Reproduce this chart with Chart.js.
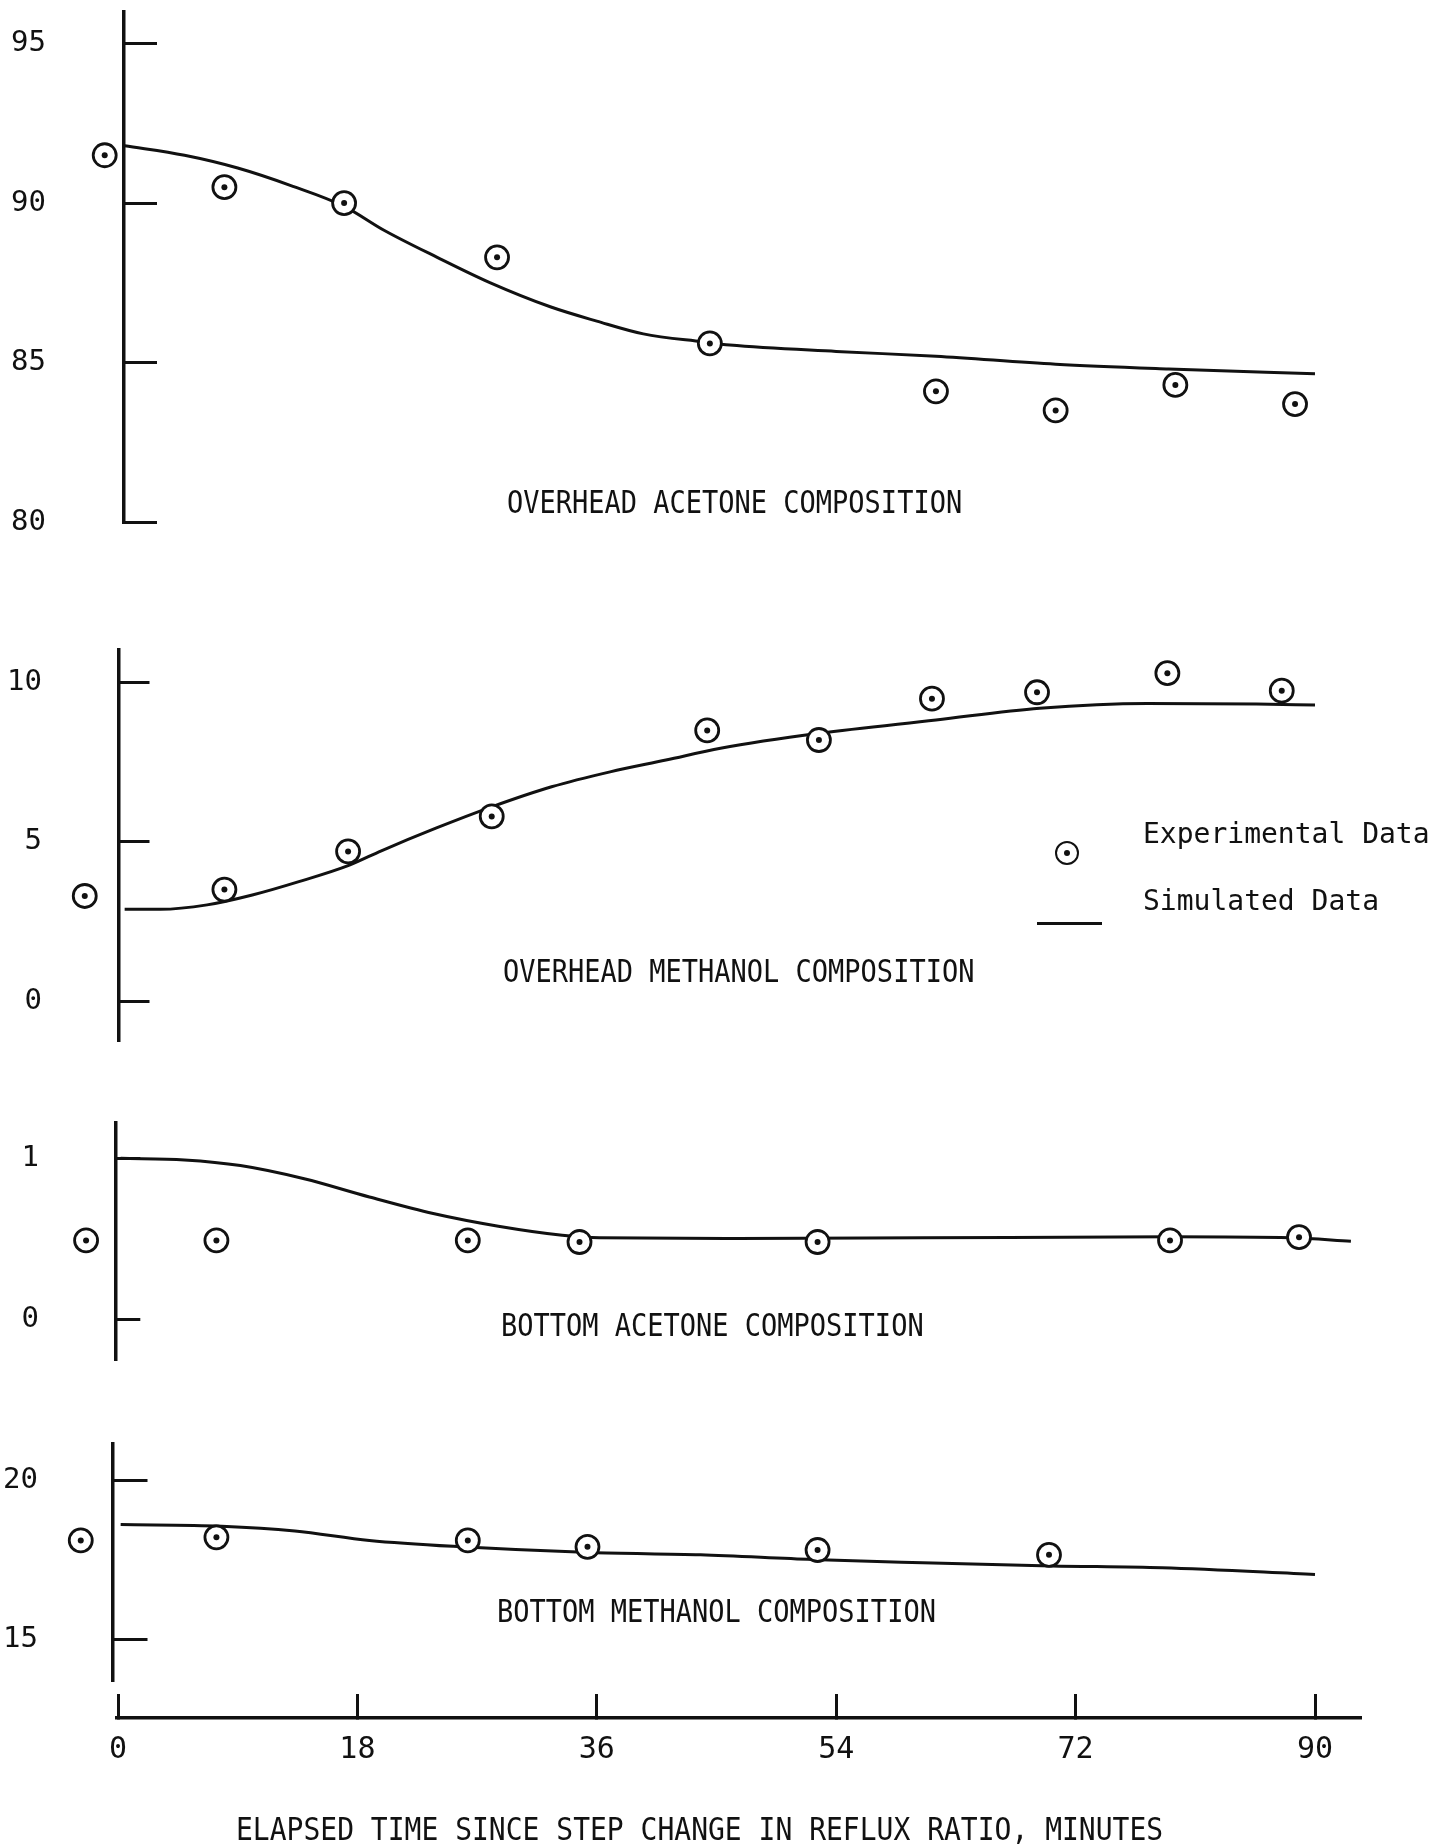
<!DOCTYPE html>
<html>
<head>
<meta charset="utf-8">
<script src="https://cdn.jsdelivr.net/npm/chart.js@4.4.1/dist/chart.umd.min.js"></script>
<style>
  html, body { margin: 0; padding: 0; background: #fff; }
  #page { position: relative; width: 1439px; height: 1848px; overflow: hidden; background: #fff; }
  #page canvas { position: absolute; left: 0; top: 0; }
  .txt { position: absolute; font-family: 'DejaVu Sans Mono', monospace; color: #111; white-space: nowrap; line-height: 1; }
  .cap { font-size: 27px; transform: scaleY(1.17); transform-origin: left center; }
  .leg { font-size: 28px; }
  .mark { position: absolute; width: 20px; height: 20px; border: 2.8px solid #111; border-radius: 50%; background: #fff; }
  .mark::after { content: ''; position: absolute; left: 7px; top: 7px; width: 6px; height: 6px; border-radius: 50%; background: #111; }
  .dash { position: absolute; height: 3px; background: #111; }
</style>
</head>
<body>
<div id="page">
  <div class="txt cap" style="left:507px; top:488px;">OVERHEAD ACETONE COMPOSITION</div>
  <div class="txt cap" style="left:503px; top:957px;">OVERHEAD METHANOL COMPOSITION</div>
  <div class="txt cap" style="left:501px; top:1311px;">BOTTOM ACETONE COMPOSITION</div>
  <div class="txt cap" style="left:497px; top:1597px;">BOTTOM METHANOL COMPOSITION</div>
  <div class="txt cap" style="left:236px; top:1815px; font-size:28px;">ELAPSED TIME SINCE STEP CHANGE IN REFLUX RATIO, MINUTES</div>

  <div class="txt leg" style="left:1143px; top:820px;">Experimental Data</div>
  <div class="txt leg" style="left:1143px; top:887px;">Simulated Data</div>
  <div class="mark" style="left:1055px; top:841px;"></div>
  <div class="dash" style="left:1037px; top:922px; width:65px;"></div>
</div>
<script>
// time axis (minutes)
const timeTicks = [0, 18, 36, 54, 72, 90];

// overhead acetone composition
const acetoneTopTicks = [80, 85, 90, 95];
const acetoneTopExpTime = [-1, 8, 17, 28.5, 44.5, 61.5, 70.5, 79.5, 88.5];
const acetoneTopExp = [91.5, 90.5, 90.0, 88.3, 85.6, 84.1, 83.5, 84.3, 83.7];
const acetoneTopSimTime = [0.5, 5, 9, 13, 17, 20, 24, 28, 32.5, 36, 39.5, 44, 46, 54, 61.5, 70.5, 79, 90];
const acetoneTopSim = [91.8, 91.5, 91.1, 90.55, 89.9, 89.15, 88.3, 87.5, 86.75, 86.3, 85.9, 85.65, 85.55, 85.35, 85.2, 84.95, 84.8, 84.65];

// overhead methanol composition
const methanolTopTicks = [0, 5, 10];
const methanolTopExpTime = [-2.5, 8, 17.3, 28.1, 44.3, 52.7, 61.2, 69.1, 78.9, 87.5];
const methanolTopExp = [3.3, 3.5, 4.7, 5.8, 8.5, 8.2, 9.5, 9.7, 10.3, 9.75];
const methanolTopSimTime = [0.5, 3.2, 6.7, 10.1, 13.6, 17.4, 19.8, 23.9, 28.1, 32.6, 37, 41.2, 45.3, 52.7, 61.5, 69.3, 77.4, 85.6, 90];
const methanolTopSim = [2.88, 2.88, 3.02, 3.33, 3.75, 4.27, 4.72, 5.43, 6.1, 6.73, 7.2, 7.57, 7.94, 8.41, 8.83, 9.2, 9.35, 9.33, 9.3];

// bottom acetone composition
const acetoneBotTicks = [0, 1];
const acetoneBotExpTime = [-2.4, 7.4, 26.3, 34.7, 52.6, 79.1, 88.8];
const acetoneBotExp = [0.49, 0.49, 0.49, 0.48, 0.48, 0.49, 0.51];
const acetoneBotSimTime = [0.2, 5, 9.2, 14, 18.9, 23.7, 28.6, 33.4, 36.2, 46.6, 60.5, 79.2, 88.2, 92.7];
const acetoneBotSim = [1.0, 0.99, 0.955, 0.873, 0.76, 0.657, 0.578, 0.522, 0.506, 0.502, 0.506, 0.512, 0.506, 0.485];

// bottom methanol composition
const methanolBotTicks = [15, 20];
const methanolBotExpTime = [-2.8, 7.4, 26.3, 35.3, 52.6, 70];
const methanolBotExp = [18.1, 18.2, 18.1, 17.9, 17.8, 17.65];
const methanolBotSimTime = [0.2, 7.8, 13.3, 18.9, 25.8, 35.5, 43.8, 52.2, 60.5, 70.2, 78.5, 90];
const methanolBotSim = [18.6, 18.55, 18.4, 18.1, 17.9, 17.72, 17.65, 17.5, 17.4, 17.3, 17.24, 17.03];

const INK = '#111';
const FONT = "'DejaVu Sans Mono', monospace";
const W = 1439, H = 1848;
// canvases overhang the page so the big label padding never squeezes the plot
const OFF = 300;
// pixel where t = 0 sits, and pixels per minute
const X0_PX = 118, PX_PER_MIN = 13.3, RIGHT_PX = 1355;

const page = document.getElementById('page');

function pairs(xs, ys) {
  return xs.map((x, i) => ({ x: x, y: ys[i] }));
}

function newCanvas() {
  const c = document.createElement('canvas');
  c.width = W;
  c.height = H + 2 * OFF;
  c.style.top = -OFF + 'px';
  page.insertBefore(c, page.firstChild);
  return c;
}

const panels = [
  { axisX: 124, top: 11.7, bottom: 522.1, yMin: 80, yMax: 96, tickLen: 33, labelRight: 46,
    ticks: acetoneTopTicks, expT: acetoneTopExpTime, exp: acetoneTopExp, simT: acetoneTopSimTime, sim: acetoneTopSim },
  { axisX: 118.5, top: 649.3, bottom: 1040.8, yMin: -1.25, yMax: 11.05, tickLen: 31, labelRight: 42,
    ticks: methanolTopTicks, expT: methanolTopExpTime, exp: methanolTopExp, simT: methanolTopSimTime, sim: methanolTopSim },
  { axisX: 115.3, top: 1122.9, bottom: 1359.5, yMin: -0.25, yMax: 1.22, tickLen: 25, labelRight: 39,
    ticks: acetoneBotTicks, expT: acetoneBotExpTime, exp: acetoneBotExp, simT: acetoneBotSimTime, sim: acetoneBotSim },
  { axisX: 112.5, top: 1444.1, bottom: 1680.4, yMin: 13.7, yMax: 21.13, tickLen: 35, labelRight: 38,
    ticks: methanolBotTicks, expT: methanolBotExpTime, exp: methanolBotExp, simT: methanolBotSimTime, sim: methanolBotSim }
];

panels.forEach(function (p) {
  new Chart(newCanvas(), {
    type: 'scatter',
    data: {
      datasets: [
        { // centre dot of the experimental marker
          data: pairs(p.expT, p.exp), pointRadius: 3, pointHoverRadius: 60, pointBackgroundColor: INK,
          pointBorderWidth: 0, order: 1, clip: false
        },
        { // ring of the experimental marker (hover radius only widens the in-area margin)
          data: pairs(p.expT, p.exp), pointRadius: 11.5, pointHoverRadius: 60, pointBackgroundColor: '#fff',
          pointBorderColor: INK, pointBorderWidth: 2.8, order: 2, clip: false
        },
        { // simulated curve
          data: pairs(p.simT, p.sim), showLine: true, pointRadius: 0, borderColor: INK,
          borderWidth: 3, cubicInterpolationMode: 'monotone', order: 3, clip: false
        }
      ]
    },
    options: {
      responsive: false,
      devicePixelRatio: 1,
      animation: false,
      events: [],
      layout: { padding: { left: 0, right: W - RIGHT_PX, top: p.top + OFF, bottom: H + OFF - p.bottom } },
      plugins: { legend: { display: false }, tooltip: { enabled: false } },
      scales: {
        x: {
          type: 'linear', display: false,
          min: (p.axisX - X0_PX) / PX_PER_MIN,
          max: (RIGHT_PX - X0_PX) / PX_PER_MIN
        },
        y: {
          type: 'linear', position: 'left', min: p.yMin, max: p.yMax,
          afterBuildTicks: function (s) { s.ticks = p.ticks.map(v => ({ value: v })); },
          afterFit: function (s) { s.width = p.axisX; },
          border: { display: true, color: INK, width: 3.5 },
          // negative tick length -> ticks point into the plot
          grid: { drawOnChartArea: false, drawTicks: true, tickLength: -p.tickLen, color: INK, lineWidth: 3 },
          ticks: { color: INK, font: { family: FONT, size: 29 }, padding: p.axisX + p.tickLen - p.labelRight }
        }
      }
    }
  });
});

// shared time axis at the bottom
const AXIS_LEFT = 117, AXIS_RIGHT = 1360, AXIS_Y = 1718, AXIS_H = 100;
new Chart(newCanvas(), {
  type: 'scatter',
  data: { datasets: [] },
  options: {
    responsive: false,
    devicePixelRatio: 1,
    animation: false,
    events: [],
    layout: { padding: { left: AXIS_LEFT, right: W - AXIS_RIGHT, top: 1600 + OFF, bottom: H + OFF - AXIS_Y - AXIS_H } },
    plugins: { legend: { display: false }, tooltip: { enabled: false } },
    scales: {
      x: {
        type: 'linear', position: 'bottom',
        min: (AXIS_LEFT - X0_PX) / PX_PER_MIN,
        max: (AXIS_RIGHT - X0_PX) / PX_PER_MIN,
        afterBuildTicks: function (s) { s.ticks = timeTicks.map(v => ({ value: v })); },
        afterFit: function (s) { s.height = AXIS_H; },
        border: { display: true, color: INK, width: 3.5 },
        grid: { drawOnChartArea: false, drawTicks: true, tickLength: -24, color: INK, lineWidth: 3 },
        ticks: { color: INK, font: { family: FONT, size: 30 }, padding: 38, maxRotation: 0 }
      },
      y: { display: false, min: 0, max: 1 }
    }
  }
});
</script>
</body>
</html>
